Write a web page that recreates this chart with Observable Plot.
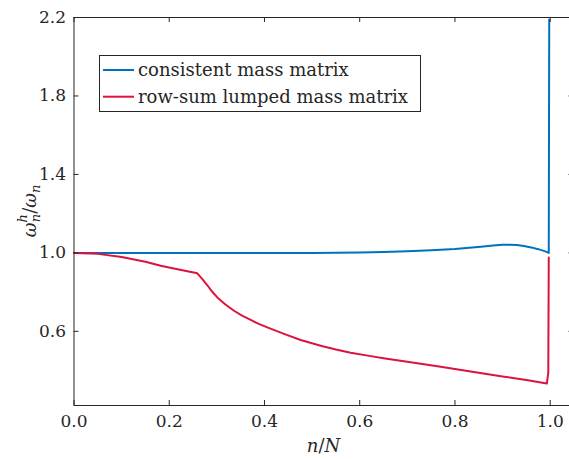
<!DOCTYPE html>
<html>
<head>
<meta charset="utf-8">
<script src="https://cdn.jsdelivr.net/npm/d3@7"></script>
<script src="https://cdn.jsdelivr.net/npm/@observablehq/plot@0.6"></script>
<style>
  html, body { margin: 0; padding: 0; background: #fff; overflow: hidden; }
  #chart { position: relative; width: 569px; height: 459px; overflow: hidden; }
  #chart svg { max-width: none !important; }
  #chart svg text, #chart svg tspan { font-family: "DejaVu Serif", serif; }
</style>
</head>
<body>
<div id="chart"></div>
<script>
// Normalised discrete frequency ω_n^h / ω_n against mode number n/N
const consistentN = [0, 0.1, 0.2, 0.3, 0.4, 0.5, 0.55, 0.6, 0.65, 0.7, 0.75, 0.8, 0.83, 0.86, 0.88, 0.9, 0.915, 0.93, 0.945, 0.96, 0.975, 0.988, 0.997, 0.998];
const consistentW = [1, 1, 1, 1, 1, 1, 1.001, 1.002, 1.004, 1.008, 1.013, 1.02, 1.026, 1.033, 1.038, 1.041, 1.042, 1.04, 1.035, 1.028, 1.019, 1.009, 1.0, 2.19];

const lumpedN = [0, 0.05, 0.1, 0.15, 0.182, 0.22, 0.259, 0.27, 0.28, 0.29, 0.301, 0.318, 0.336, 0.353, 0.371, 0.388, 0.406, 0.441, 0.476, 0.52, 0.55, 0.581, 0.62, 0.65, 0.707, 0.77, 0.833, 0.9, 0.95, 0.993, 0.996, 0.997];
const lumpedW = [1, 0.995, 0.979, 0.955, 0.934, 0.915, 0.896, 0.865, 0.835, 0.803, 0.773, 0.737, 0.705, 0.68, 0.658, 0.638, 0.62, 0.587, 0.556, 0.525, 0.507, 0.491, 0.475, 0.463, 0.443, 0.419, 0.395, 0.37, 0.352, 0.334, 0.39, 0.976];

const seriesNames = ["consistent mass matrix", "row-sum lumped mass matrix"];
const seriesColors = ["#0072BD", "#DC143C"];

const xTicks = [0, 0.2, 0.4, 0.6, 0.8, 1.0];
const yTicks = [0.6, 1.0, 1.4, 1.8, 2.2];

const rows = [
  ...consistentN.map((n, i) => ({n, w: consistentW[i], series: seriesNames[0]})),
  ...lumpedN.map((n, i) => ({n, w: lumpedW[i], series: seriesNames[1]}))
];

const W = 574, H = 459, mL = 73.5, mR = 0.5, mT = 17, mB = 54;
const innerW = W - mL - mR, innerH = H - mT - mB;
const ink = "#262626";
const fmt = d3.format(".1f");

const plot = Plot.plot({
  width: W, height: H,
  marginLeft: mL, marginRight: mR, marginTop: mT, marginBottom: mB,
  style: {fontSize: "17px", color: ink, background: "white", overflow: "visible", maxWidth: "none"},
  x: {domain: [0, 1.05], label: null},
  y: {domain: [0.222, 2.2], label: null},
  color: {domain: seriesNames, range: seriesColors},
  marks: [
    Plot.line(rows, {x: "n", y: "w", z: "series", stroke: "series", strokeWidth: 2}),
    Plot.frame({stroke: ink, strokeWidth: 1}),
    // inward ticks on all four sides
    Plot.tickX(xTicks, {x: d => d, insetTop: innerH - 5, stroke: ink}),
    Plot.tickX(xTicks, {x: d => d, insetBottom: innerH - 5, stroke: ink}),
    Plot.tickY(yTicks, {y: d => d, insetRight: innerW - 5, stroke: ink}),
    Plot.tickY(yTicks, {y: d => d, insetLeft: innerW - 5, stroke: ink}),
    Plot.axisX(xTicks, {tickSize: 0, tickPadding: 9, tickFormat: fmt, fontSize: 17, label: null}),
    Plot.axisY(yTicks, {tickSize: 0, tickPadding: 8, tickFormat: fmt, fontSize: 17, label: null})
  ]
});

const svg = d3.select(plot);

// y-axis label: ω_n^h / ω_n
const yl = svg.append("text")
  .attr("transform", `translate(36, ${mT + innerH / 2}) rotate(-90)`)
  .attr("text-anchor", "middle")
  .attr("font-size", 18).attr("fill", ink);
yl.append("tspan").attr("font-style", "italic").text("ω");
yl.append("tspan").attr("font-style", "italic").attr("font-size", 13).attr("dy", -9).text("h");
yl.append("tspan").attr("font-style", "italic").attr("font-size", 13).attr("dx", -8).attr("dy", 13).text("n");
yl.append("tspan").attr("dy", -4).text("/");
yl.append("tspan").attr("font-style", "italic").text("ω");
yl.append("tspan").attr("font-style", "italic").attr("font-size", 13).attr("dy", 4).text("n");

// x-axis label: n/N
const xl = svg.append("text")
  .attr("x", mL + innerW / 2).attr("y", 452)
  .attr("text-anchor", "middle")
  .attr("font-size", 18).attr("fill", ink);
xl.append("tspan").attr("font-style", "italic").text("n");
xl.append("tspan").text("/");
xl.append("tspan").attr("font-style", "italic").text("N");

// legend box
const lg = svg.append("g").attr("font-size", 18).attr("fill", ink)
  .attr("text-anchor", "start");
lg.append("rect").attr("x", 99.5).attr("y", 55.5).attr("width", 321).attr("height", 56)
  .attr("fill", "white").attr("stroke", ink).attr("stroke-width", 1);
seriesNames.forEach((name, i) => {
  const cy = 70 + i * 26.7;
  lg.append("line").attr("x1", 103).attr("x2", 134).attr("y1", cy).attr("y2", cy)
    .attr("stroke", seriesColors[i]).attr("stroke-width", 2);
  lg.append("text").attr("x", 138).attr("y", cy + 6).text(name);
});

document.getElementById("chart").appendChild(plot);
</script>
</body>
</html>
